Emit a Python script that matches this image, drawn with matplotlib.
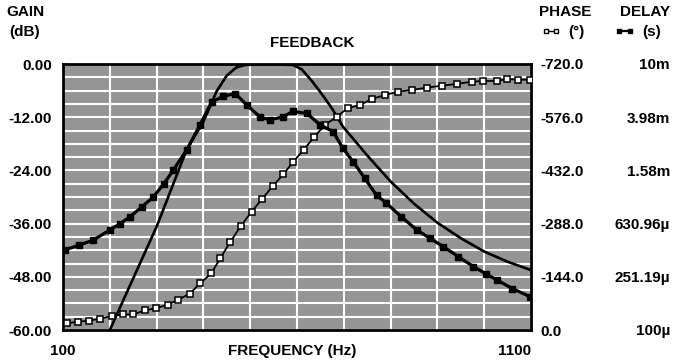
import matplotlib
matplotlib.use("Agg")
import matplotlib.pyplot as plt
from matplotlib.lines import Line2D

plt.rcParams["font.family"] = ["Liberation Sans", "DejaVu Sans"]
plt.rcParams["font.weight"] = "bold"

# Gain (dB) - plain line
gain_freq = [190, 200, 300, 364, 400, 428, 450, 470, 490, 540, 591, 610, 630, 649, 674,
             698, 749, 800, 850, 900, 950, 1000, 1050, 1100]
gain_db = [-62.2, -60.0, -36.7, -19.4, -13.0, -6.2, -2.6, -0.8, -0.2, -0.1, -0.2, -1.2,
           -3.6, -6.2, -9.9, -14.1, -20.5, -26.5, -31.5, -35.8, -39.3, -42.3, -44.6,
           -46.5]

# Phase (deg) - open squares
phase_freq = [108, 133, 156, 179, 204, 228, 250, 275, 298, 325, 346, 371, 393, 417,
              436, 457, 480, 503, 525, 548, 571, 592, 614, 637, 660, 685, 708, 735,
              760, 788, 816, 845, 877, 909, 941, 973, 998, 1027, 1048, 1073, 1098]
phase_deg = [-18.1, -22.5, -25.2, -30.6, -37.9, -42.0, -42.0, -53.3, -58.7, -69.0,
             -82.0, -98.3, -126.4, -153.5, -194.0, -237.6, -281.5, -320.2, -353.8,
             -389.2, -421.7, -455.3, -487.2, -523.2, -554.9, -577.4, -600.1, -609.0,
             -625.3, -636.1, -645.0, -649.6, -655.9, -661.3, -665.9, -672.1, -674.0,
             -674.0, -679.4, -677.5, -677.5]

# Group delay (s) - filled squares
delay_freq = [104, 135, 165, 200, 222, 243, 268, 293, 315, 336, 364, 393, 418, 442,
              468, 493, 521, 542, 570, 591, 621, 649, 677, 698, 720, 745, 770, 791,
              823, 856, 884, 913, 945, 977, 1003, 1027, 1060, 1098]
delay_s = [4.0e-4, 4.35e-4, 4.75e-4, 5.65e-4, 6.3e-4, 7.1e-4, 8.4e-4, 1.0e-3, 1.25e-3,
           1.6e-3, 2.25e-3, 3.5e-3, 5.2e-3, 5.7e-3, 6.0e-3, 4.9e-3, 4.0e-3, 3.8e-3,
           4.0e-3, 4.4e-3, 4.25e-3, 3.5e-3, 3.1e-3, 2.33e-3, 1.84e-3, 1.38e-3, 1.03e-3,
           9.0e-4, 7.1e-4, 5.65e-4, 4.9e-4, 4.23e-4, 3.55e-4, 3.0e-4, 2.65e-4, 2.38e-4,
           2.05e-4, 1.78e-4]

gain_ticks = [0, -12, -24, -36, -48, -60]
phase_ticks = [-720, -576, -432, -288, -144, 0]
delay_ticks = [1e-2, 3.98e-3, 1.58e-3, 6.3096e-4, 2.5119e-4, 1e-4]
delay_labels = ["10m", "3.98m", "1.58m", "630.96\u00b5", "251.19\u00b5", "100\u00b5"]

FS = 11

fig = plt.figure(figsize=(6.84, 3.63), dpi=100)
ax = fig.add_axes([63 / 684, 1 - 330 / 363, 468 / 684, 266 / 363])
ax.set_facecolor("#959595")

# gain axis
ax.set_xlim(100, 1100)
ax.set_ylim(-60, 0)
ax.set_xticks(range(100, 1101, 100))
ax.set_xticklabels(["100"] + [""] * 9 + ["1100"])
ax.set_yticks(range(-60, 1, 3))
ax.set_yticklabels([f"{v:.2f}" if v in gain_ticks else "" for v in range(-60, 1, 3)])
ax.tick_params(length=0, labelsize=FS)
ax.tick_params(axis="y", pad=8)
ax.tick_params(axis="x", pad=10)
ax.get_xticklabels()[-1].set_horizontalalignment("right")
ax.grid(True, color="white", linewidth=1.5)
ax.set_axisbelow(True)
for sp in ax.spines.values():
    sp.set_linewidth(2.0)
    sp.set_zorder(5)

ax.plot(gain_freq, gain_db, color="black", linewidth=1.9, zorder=3)

# phase axis
ax2 = ax.twinx()
ax2.set_ylim(0, -720)
ax2.set_yticks(phase_ticks)
ax2.set_yticklabels([f"{v:.1f}" for v in phase_ticks])
ax2.tick_params(length=0, labelsize=FS, pad=7)
for sp in ax2.spines.values():
    sp.set_visible(False)
ax2.plot(phase_freq, phase_deg, color="black", linewidth=1.3,
         marker="s", markersize=3.8, markerfacecolor="white",
         markeredgecolor="black", markeredgewidth=1.1, zorder=4)

# delay axis
ax3 = ax.twinx()
ax3.set_yscale("log")
ax3.set_ylim(1e-4, 1e-2)
ax3.set_yticks(delay_ticks)
ax3.set_yticklabels(delay_labels)
ax3.yaxis.set_minor_locator(matplotlib.ticker.NullLocator())
ax3.tick_params(length=0, labelsize=FS, pad=100)
for lab in ax3.get_yticklabels():
    lab.set_horizontalalignment("right")
for sp in ax3.spines.values():
    sp.set_visible(False)
ax3.plot(delay_freq, delay_s, color="black", linewidth=2.3,
         marker="s", markersize=3.8, markerfacecolor="black",
         markeredgecolor="black", zorder=4)
ax3.set_xlim(100, 1100)

# headings
fig.text(25 / 684, 1 - 12 / 363, "GAIN", ha="center", va="center", fontsize=FS)
fig.text(25 / 684, 1 - 32 / 363, "(dB)", ha="center", va="center", fontsize=FS)
fig.text(312 / 684, 1 - 43 / 363, "FEEDBACK", ha="center", va="center", fontsize=FS)
fig.text(565 / 684, 1 - 12 / 363, "PHASE", ha="center", va="center", fontsize=FS)
fig.text(645 / 684, 1 - 12 / 363, "DELAY", ha="center", va="center", fontsize=FS)
fig.text(292 / 684, 1 - 351 / 363, "FREQUENCY (Hz)", ha="center", va="center",
         fontsize=FS)

fig.legend(handles=[Line2D([], [], color="black", linewidth=1.0, marker="s",
                           markersize=3, markerfacecolor="white")],
           labels=["(\u00b0)"], loc="center", bbox_to_anchor=(563 / 684, 1 - 32 / 363),
           frameon=False, numpoints=2, handlelength=1.3, handletextpad=0.5,
           fontsize=FS)
fig.legend(handles=[Line2D([], [], color="black", linewidth=1.6, marker="s",
                           markersize=3, markerfacecolor="black")],
           labels=["(s)"], loc="center", bbox_to_anchor=(638 / 684, 1 - 32 / 363),
           frameon=False, numpoints=2, handlelength=1.3, handletextpad=0.5,
           fontsize=FS)

fig.savefig("out.png", dpi=100)
